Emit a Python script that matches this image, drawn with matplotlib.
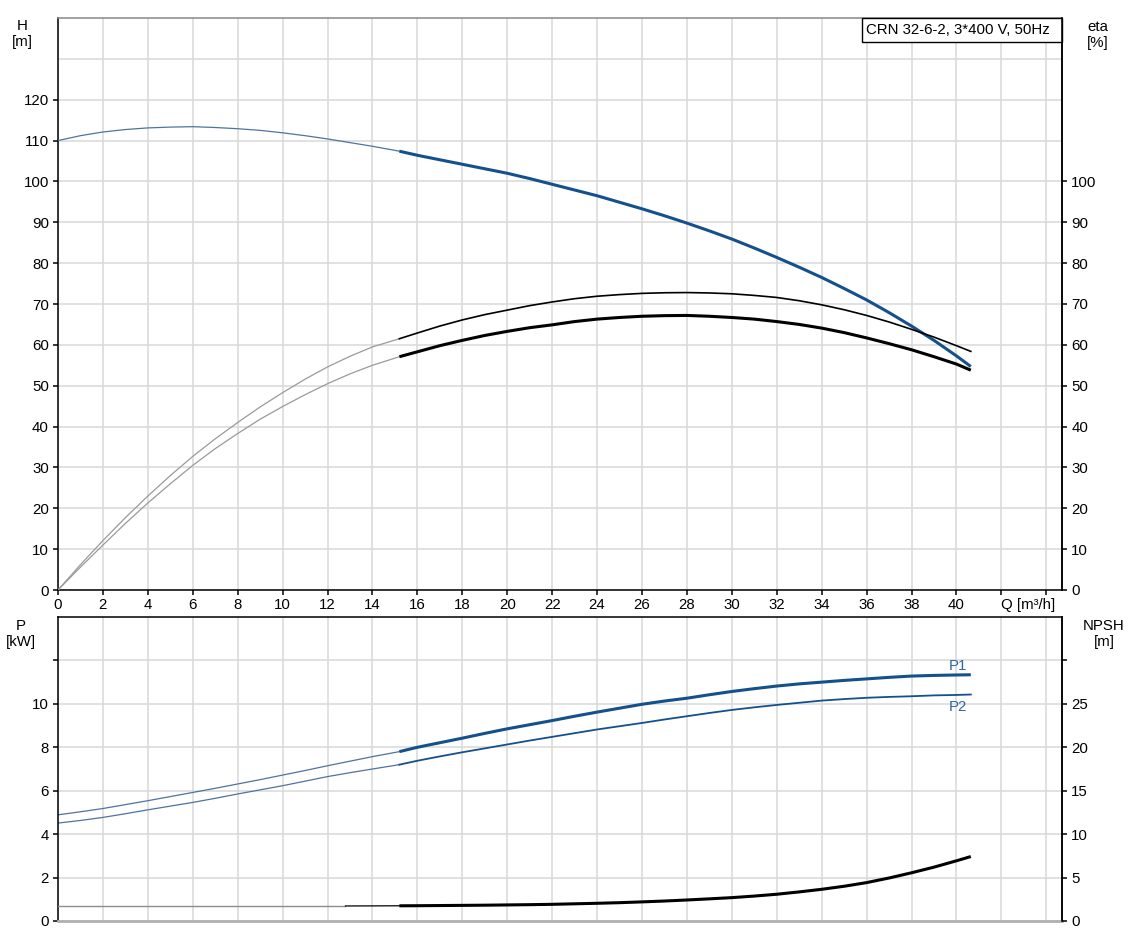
import numpy as np
import matplotlib
matplotlib.use("Agg")
import matplotlib.pyplot as plt
from matplotlib.patches import Rectangle

plt.rcParams['font.family'] = ['Liberation Sans', 'DejaVu Sans']
plt.rcParams['font.size'] = 10.8

# --- data ---
q = np.array([0, 1, 2, 3, 4, 5, 6, 7, 8, 9, 10, 11, 12, 13, 14, 15.2,
              16, 17, 18, 19, 20, 21, 22, 23, 24, 25, 26, 27, 28, 29, 30,
              31, 32, 33, 34, 35, 36, 37, 38, 39, 40, 40.64])
head = np.array([110, 111.2, 112.1, 112.7, 113.1, 113.3, 113.4, 113.2, 112.9,
                 112.5, 111.9, 111.2, 110.4, 109.5, 108.6, 107.4,
                 106.4, 105.3, 104.2, 103.1, 102.0, 100.7, 99.3, 97.9, 96.5,
                 94.9, 93.3, 91.6, 89.8, 87.9, 85.9, 83.7, 81.4, 79.0, 76.5,
                 73.8, 71.0, 67.9, 64.6, 61.1, 57.3, 54.7])
eta_upper = np.array([0, 6.2, 12.1, 17.7, 23.0, 28.0, 32.7, 37.0, 41.0, 44.8,
                      48.3, 51.6, 54.6, 57.2, 59.5, 61.5,
                      62.9, 64.6, 66.1, 67.4, 68.5, 69.6, 70.5, 71.3, 71.9,
                      72.3, 72.6, 72.75, 72.8, 72.7, 72.5, 72.1, 71.6, 70.8,
                      69.8, 68.6, 67.2, 65.6, 63.8, 61.9, 59.8, 58.4])
eta_lower = np.array([0, 5.6, 11.0, 16.3, 21.3, 26.0, 30.5, 34.6, 38.3, 41.8,
                      44.9, 47.8, 50.5, 52.9, 55.0, 57.1,
                      58.3, 59.8, 61.1, 62.3, 63.3, 64.2, 64.9, 65.7, 66.3,
                      66.7, 67.0, 67.15, 67.2, 67.0, 66.7, 66.3, 65.7, 65.0,
                      64.1, 63.0, 61.7, 60.3, 58.8, 57.1, 55.3, 53.8])
p1 = np.array([4.89, 5.03, 5.18, 5.36, 5.54, 5.73, 5.92, 6.11, 6.31, 6.51,
               6.72, 6.93, 7.15, 7.36, 7.57, 7.80,
               8.0, 8.21, 8.42, 8.64, 8.85, 9.04, 9.23, 9.43, 9.62, 9.80,
               9.98, 10.13, 10.26, 10.42, 10.57, 10.70, 10.82, 10.92, 11.0,
               11.08, 11.15, 11.22, 11.28, 11.31, 11.33, 11.34])
p2 = np.array([4.51, 4.63, 4.77, 4.94, 5.12, 5.29, 5.46, 5.65, 5.85, 6.04,
               6.23, 6.44, 6.65, 6.83, 7.0, 7.2,
               7.38, 7.58, 7.77, 7.95, 8.13, 8.31, 8.48, 8.65, 8.82, 8.97,
               9.12, 9.28, 9.43, 9.58, 9.72, 9.84, 9.95, 10.05, 10.15, 10.22,
               10.28, 10.32, 10.35, 10.39, 10.41, 10.43])
q_npsh = np.array([0, 12.8, 15.2, 16, 17, 18, 19, 20, 21, 22, 23, 24, 25, 26,
                   27, 28, 29, 30, 31, 32, 33, 34, 35, 36, 37, 38, 39, 40,
                   40.64])
npsh = np.array([1.73, 1.73, 1.75, 1.76, 1.78, 1.8, 1.82, 1.85, 1.88, 1.92,
                 1.98, 2.04, 2.11, 2.2, 2.3, 2.42, 2.55, 2.69, 2.87, 3.08,
                 3.35, 3.65, 4.0, 4.42, 4.95, 5.55, 6.2, 6.93, 7.42])
q_start = 15.2      # start of the operating range (thick part)
q_grey_end = 12.8   # npsh grey part ends here

title_box = "CRN 32-6-2, 3*400 V, 50Hz"
q_ticks = np.arange(0, 45, 2)
q_labels = [str(v) if v <= 40 else "" for v in q_ticks]

BLUE = '#14508c'
BLUE_THIN = '#4f73a0'
GRID = '#d9d9d9'
TICK_LEN = 3.6

fig = plt.figure(figsize=(11.34, 9.39), dpi=100)
W, H = 1134, 939


def fig_rect(x0, y0, x1, y1):
    return [x0 / W, 1 - y1 / H, (x1 - x0) / W, (y1 - y0) / H]


ax = fig.add_axes(fig_rect(58, 18, 1062, 590))
axr = ax.twinx()
bx = fig.add_axes(fig_rect(58, 617, 1062, 921))
bxr = bx.twinx()

thin = q <= q_start
thick = q >= q_start

# top: head and efficiency
ax.plot(q[thin], head[thin], color=BLUE_THIN, lw=0.9, zorder=3)
ax.plot(q[thick], head[thick], color=BLUE, lw=2.2, zorder=4, solid_capstyle='butt')
axr.plot(q[thin], eta_upper[thin], color='#9a9a9a', lw=0.9)
axr.plot(q[thin], eta_lower[thin], color='#9a9a9a', lw=0.9)
axr.plot(q[thick], eta_upper[thick], color='black', lw=1.2)
axr.plot(q[thick], eta_lower[thick], color='black', lw=2.2, solid_capstyle='butt')

# bottom: power and NPSH
bx.plot(q[thin], p1[thin], color=BLUE_THIN, lw=0.9)
bx.plot(q[thick], p1[thick], color=BLUE, lw=2.2, solid_capstyle='butt')
bx.plot(q[thin], p2[thin], color=BLUE_THIN, lw=0.9)
bx.plot(q[thick], p2[thick], color=BLUE, lw=1.3)
bx.annotate("P1", xy=(q[-1], p1[-1]), xytext=(-4, 9), textcoords='offset pixels',
            color='#2f67a0', ha='right', va='center')
bx.annotate("P2", xy=(q[-1], p2[-1]), xytext=(-4, -12), textcoords='offset pixels',
            color='#2f67a0', ha='right', va='center')

g = q_npsh <= q_grey_end
m = (q_npsh >= q_grey_end) & (q_npsh <= q_start)
t = q_npsh >= q_start
bxr.plot(q_npsh[g], npsh[g], color='#8c8c8c', lw=1.0)
bxr.plot(q_npsh[m], npsh[m], color='black', lw=0.9)
bxr.plot(q_npsh[t], npsh[t], color='black', lw=2.2, solid_capstyle='butt')

# axes setup
for a in (ax, bx):
    a.set_xlim(0, 44.7)
    a.set_xticks(q_ticks)
    a.grid(True, color=GRID, lw=1.1)
    a.set_axisbelow(True)
    for s in a.spines.values():
        s.set_linewidth(1.1)
    a.spines['left'].set_color('black')
    a.tick_params(axis='y', direction='out', length=TICK_LEN, width=1.1, pad=3)

ax.set_ylim(0, 140)
ax.set_yticks(np.arange(0, 140, 10))
ax.set_yticklabels([str(v) if v <= 120 else "" for v in range(0, 140, 10)])
ax.yaxis.get_major_ticks()[-1].tick1line.set_visible(False)
ax.set_xticklabels(q_labels)
ax.tick_params(axis='x', direction='out', length=TICK_LEN, width=1.1, pad=2)
ax.spines['top'].set_color('#888888')
ax.spines['bottom'].set_color('black')
ax.annotate("Q [m³/h]", xy=(42, 0), xycoords=ax.get_xaxis_transform(),
            xytext=(0, -(TICK_LEN + 2)), textcoords='offset points',
            ha='left', va='top')

axr.set_ylim(0, 140)
axr.set_yticks(np.arange(0, 110, 10))
axr.tick_params(axis='y', direction='out', length=TICK_LEN, width=1.1, pad=3)
for s in axr.spines.values():
    s.set_visible(False)
axr.spines['right'].set_visible(True)
axr.spines['right'].set_linewidth(1.1)

bx.set_ylim(0, 14)
bx.set_yticks(np.arange(0, 13, 2))
bx.set_yticklabels([str(v) if v <= 10 else "" for v in range(0, 13, 2)])
bx.tick_params(axis='x', length=0, labelbottom=False)
bx.spines['bottom'].set_color('#b0b0b0')
bx.spines['bottom'].set_linewidth(2)
bx.spines['top'].set_color('black')

bxr.set_ylim(0, 35)
bxr.set_yticks(np.arange(0, 31, 5))
bxr.set_yticklabels([str(v) if v <= 25 else "" for v in range(0, 31, 5)])
bxr.tick_params(axis='y', direction='out', length=TICK_LEN, width=1.1, pad=3)
for s in bxr.spines.values():
    s.set_visible(False)
bxr.spines['right'].set_visible(True)
bxr.spines['right'].set_linewidth(1.1)

# model box
ax.add_patch(Rectangle(((862 - 58) / 1004, (590 - 42) / 572), 200 / 1004, 24 / 572,
                       transform=ax.transAxes, facecolor='white', edgecolor='black',
                       lw=1.0, zorder=10, clip_on=False))
ax.text((866 - 58) / 1004, (590 - 30) / 572, title_box, transform=ax.transAxes,
        ha='left', va='center', fontsize=10.8, zorder=11)

# axis unit labels
fig.text(22 / W, 1 - 34 / H, "H\n[m]", ha='center', va='center', linespacing=1.1)
fig.text(1098 / W, 1 - 35 / H, "eta\n[%]", ha='center', va='center', linespacing=1.1)
fig.text(21 / W, 1 - 634 / H, "P\n[kW]", ha='center', va='center', linespacing=1.1)
fig.text(1104 / W, 1 - 634 / H, "NPSH\n[m]", ha='center', va='center', linespacing=1.1)

fig.savefig("out.png", dpi=100)
